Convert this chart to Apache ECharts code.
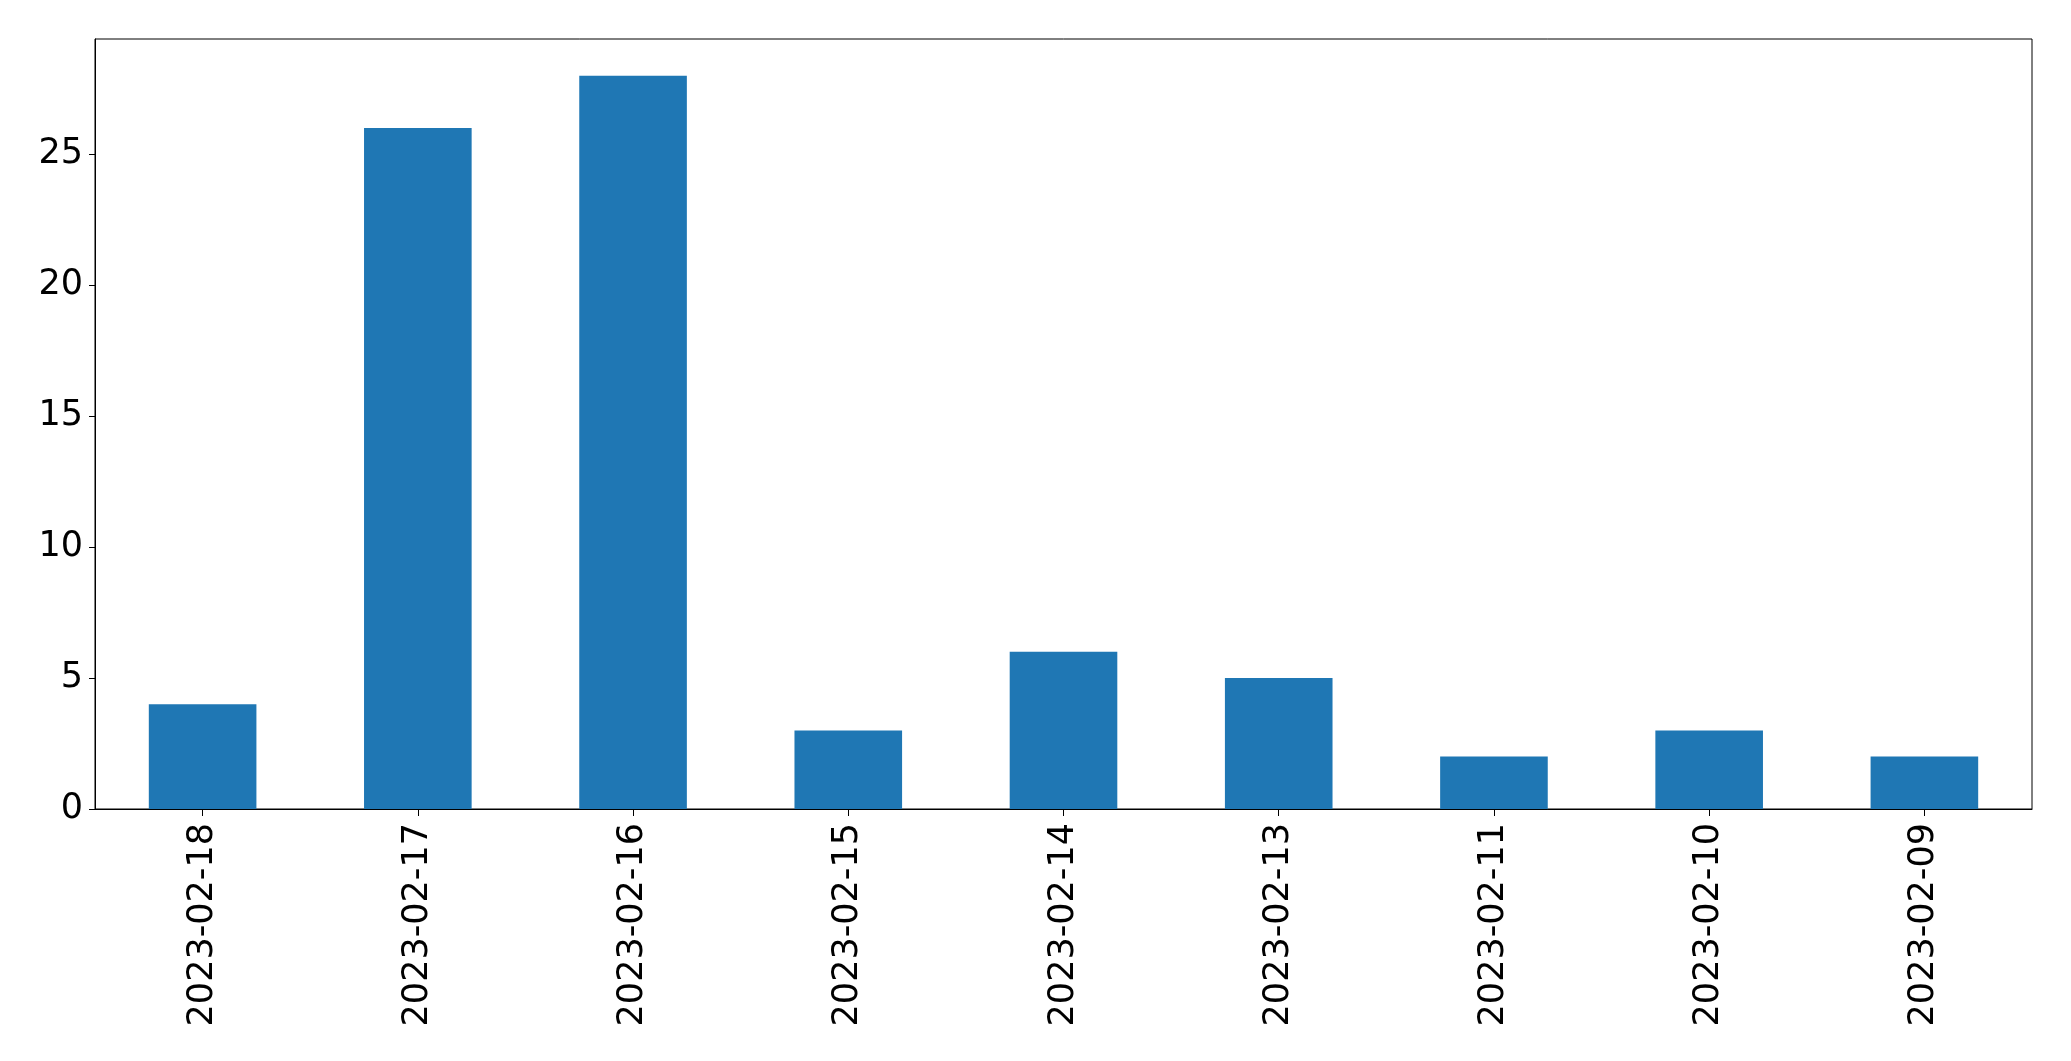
<!DOCTYPE html>
<html>
<head>
<meta charset="utf-8">
<script src="https://cdn.jsdelivr.net/npm/echarts@6/dist/echarts.min.js"></script>
<style>html,body{margin:0;padding:0;background:#fff}#c{width:2071px;height:1061px}</style>
</head>
<body>
<div id="c"></div>
<script>
const categories = ['2023-02-18','2023-02-17','2023-02-16','2023-02-15','2023-02-14','2023-02-13','2023-02-11','2023-02-10','2023-02-09'];
const values = [4, 26, 28, 3, 6, 5, 2, 3, 2];
const yTicks = [0, 5, 10, 15, 20, 25];

const chart = echarts.init(document.getElementById('c'), null, {renderer: 'canvas'});
chart.setOption({
  animation: false,
  backgroundColor: '#ffffff',
  grid: {left: 95, right: 39, top: 39, bottom: 252, show: true, borderColor: '#000', borderWidth: 1, backgroundColor: 'transparent'},
  xAxis: {
    type: 'category',
    data: categories,
    axisLine: {show: true, lineStyle: {color: '#000', width: 1}},
    axisTick: {show: true, alignWithLabel: true, length: 7, lineStyle: {color: '#000'}},
    axisLabel: {rotate: 90, margin: 14, fontFamily: 'DejaVu Sans', fontSize: 35, color: '#000', interval: 0},
    splitLine: {show: false}
  },
  yAxis: {
    type: 'value',
    min: 0,
    max: 29.4,
    interval: 5,
    axisLine: {show: true, lineStyle: {color: '#000', width: 1}},
    axisTick: {show: true, length: 6, lineStyle: {color: '#000'}, customValues: yTicks},
    axisLabel: {margin: 12, fontFamily: 'DejaVu Sans', fontSize: 35, color: '#000', customValues: yTicks},
    splitLine: {show: false}
  },
  series: [{
    type: 'bar',
    data: values,
    barWidth: '50%',
    itemStyle: {color: '#1f77b4'}
  }]
});
</script>
</body>
</html>
